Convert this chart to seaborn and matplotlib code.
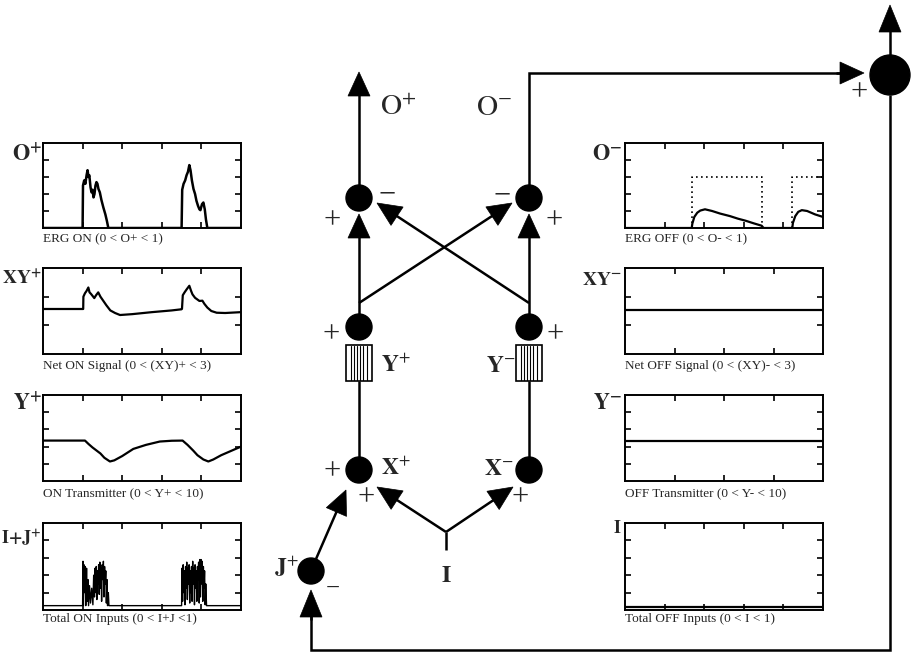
import numpy as np
import pandas as pd
import matplotlib
matplotlib.use("Agg")
import matplotlib.pyplot as plt
from matplotlib.patches import Circle, Polygon, Rectangle
import seaborn as sns

# ---------------- data (time in % of trace, values in panel units) ----------------
erg_on_t = [0, 20.0, 20.2, 20.8, 21.4, 22.0, 22.5, 23.0, 23.4, 24.0, 24.5, 25.0, 25.5, 26.0, 26.5,
            27.0, 27.5, 28.0, 28.7, 29.5, 30.5, 31.5, 32.3, 33.0, 70.0, 70.3, 71.0, 71.8, 72.5,
            73.2, 73.9, 74.5, 75.2, 76.0, 76.8, 77.5, 78.3, 79.0, 79.5, 80.3, 81.0, 81.7, 82.3, 83.0, 100]
erg_on_v = [0, 0, 0.50, 0.56, 0.52, 0.62, 0.68, 0.60, 0.62, 0.48, 0.42, 0.45, 0.36, 0.40, 0.50,
            0.54, 0.52, 0.46, 0.42, 0.33, 0.24, 0.16, 0.08, 0, 0, 0.45, 0.52, 0.56, 0.62,
            0.66, 0.74, 0.68, 0.56, 0.46, 0.40, 0.32, 0.26, 0.22, 0.21, 0.28, 0.30, 0.22, 0.10, 0, 0]

net_on_t = [0, 20.3, 20.4, 21.2, 22.0, 22.9, 23.5, 24.2, 25.0, 25.9, 26.8, 27.9, 29.0, 30.5, 32.0,
            34.0, 36.4, 38.9, 45, 55, 65, 70.0, 70.2, 70.6, 71.5, 72.5, 73.9, 74.8, 75.5, 76.8,
            78.0, 79.0, 80.5, 81.5, 83.0, 85.0, 87.7, 92, 100]
net_on_v = [1.57, 1.57, 2.00, 2.12, 2.20, 2.32, 2.15, 2.10, 2.03, 1.95, 2.05, 2.15, 2.00, 1.85, 1.70,
            1.52, 1.43, 1.36, 1.39, 1.46, 1.52, 1.56, 1.58, 2.05, 2.15, 2.25, 2.38, 2.20, 2.08, 1.96,
            1.90, 1.85, 1.86, 1.75, 1.62, 1.50, 1.44, 1.43, 1.46]

trans_on_t = [0, 21.2, 23, 25, 27, 29, 31, 33.8, 36, 40, 45.6, 52, 59, 65, 70.5, 73, 75.9, 78, 81,
              83.5, 86, 90, 95, 100]
trans_on_v = [4.7, 4.7, 4.3, 3.9, 3.55, 3.2, 2.7, 2.27, 2.4, 2.9, 3.73, 4.2, 4.59, 4.68, 4.7, 4.2,
              3.53, 3.0, 2.5, 2.27, 2.5, 3.0, 3.5, 4.0]

inp_on_t = [0, 20.0, 20.2, 20.4, 20.7, 21.0, 21.3, 21.6, 22.0, 22.3, 22.7, 23.0, 23.5, 24.0, 24.6,
            25.2, 25.6, 26.0, 26.3, 26.6, 26.9, 27.2, 27.5, 27.8, 28.1, 28.4, 28.7, 29.0, 29.3,
            29.6, 29.9, 30.2, 30.5, 30.8, 31.1, 31.4, 31.7, 32.0, 32.3, 32.6, 33.0, 33.3,
            70.0, 70.2, 70.5, 70.8, 71.1, 71.4, 71.7, 72.0, 72.3, 72.6, 72.9, 73.2, 73.5, 73.8,
            74.1, 74.4, 74.7, 75.0, 75.3, 75.6, 75.9, 76.2, 76.5, 76.8, 77.1, 77.4, 77.7, 78.0,
            78.3, 78.6, 78.9, 79.2, 79.5, 79.8, 80.1, 80.4, 80.7, 81.0, 81.3, 81.6, 81.9, 82.2,
            82.6, 100]
inp_on_v = [0.05, 0.05, 0.56, 0.05, 0.52, 0.20, 0.50, 0.05, 0.48, 0.10, 0.35, 0.05, 0.28, 0.08, 0.25,
            0.06, 0.40, 0.15, 0.48, 0.20, 0.50, 0.12, 0.45, 0.30, 0.52, 0.18, 0.55, 0.25, 0.48,
            0.10, 0.52, 0.35, 0.56, 0.15, 0.50, 0.30, 0.45, 0.08, 0.35, 0.05, 0.20, 0.05,
            0.05, 0.48, 0.10, 0.52, 0.20, 0.45, 0.06, 0.50, 0.25, 0.55, 0.12, 0.48, 0.30, 0.52,
            0.08, 0.45, 0.20, 0.50, 0.10, 0.56, 0.30, 0.48, 0.06, 0.52, 0.25, 0.45, 0.10, 0.50,
            0.35, 0.55, 0.08, 0.58, 0.15, 0.58, 0.30, 0.56, 0.10, 0.50, 0.25, 0.45, 0.06, 0.30,
            0.05, 0.05]

erg_off_t = [0, 33.7, 34.0, 35, 36.5, 38, 40.4, 44, 48, 53, 57, 61, 65, 69, 70, 84.5, 84.8, 86,
             87.5, 89.3, 92, 96, 100]
erg_off_v = [0, 0, 0.05, 0.13, 0.18, 0.205, 0.22, 0.20, 0.17, 0.14, 0.11, 0.085, 0.055, 0.027, 0,
             0, 0.06, 0.14, 0.19, 0.21, 0.20, 0.16, 0.13]

off_stim_t = [33.7, 33.7, 69.0, 69.0, 84.5, 84.5, 100]
off_stim_v = [0, 0.6, 0.6, 0, 0, 0.6, 0.6]
off_stim_seg = [0, 0, 0, 0, 1, 1, 1]

net_off_t = [0, 100]
net_off_v = [1.53, 1.53]
trans_off_t = [0, 100]
trans_off_v = [4.65, 4.65]
inp_off_t = [0, 100]
inp_off_v = [0.04, 0.04]

left_captions = ["ERG ON (0 < O+ < 1)", "Net ON Signal (0 < (XY)+ < 3)",
                 "ON Transmitter (0 < Y+ < 10)", "Total ON Inputs (0 < I+J <1)"]
right_captions = ["ERG OFF (0 < O- < 1)", "Net OFF Signal (0 < (XY)- < 3)",
                  "OFF Transmitter (0 < Y- < 10)", "Total OFF Inputs (0 < I < 1)"]
left_names = [r"$\mathbf{O}^{\mathbf{+}}$", r"$\mathbf{XY}^{\mathbf{+}}$",
              r"$\mathbf{Y}^{\mathbf{+}}$", r"$\mathbf{I{+}J}^{\mathbf{+}}$"]
right_names = [r"$\mathbf{O}^{\mathbf{-}}$", r"$\mathbf{XY}^{\mathbf{-}}$",
               r"$\mathbf{Y}^{\mathbf{-}}$", r"$\mathbf{I}$"]
ymax = [1, 3, 10, 1]

# ---------------- style ----------------
sns.set_style("white")
plt.rcParams["font.family"] = ["Liberation Serif", "DejaVu Serif"]
plt.rcParams["mathtext.fontset"] = "stix"

W, H = 913, 656
fig = plt.figure(figsize=(W / 100, H / 100), dpi=100)
fig.patch.set_facecolor("white")
ax0 = fig.add_axes([0, 0, 1, 1])
ax0.set_xlim(0, W)
ax0.set_ylim(H, 0)
ax0.axis("off")

LW = 1.8


def add_panel(x0, y0, x1, y1):
    ax = fig.add_axes([x0 / W, 1 - y1 / H, (x1 - x0) / W, (y1 - y0) / H])
    ax.set_facecolor("white")
    for s in ax.spines.values():
        s.set_visible(True)
        s.set_color("black")
        s.set_linewidth(1.4)
    return ax


def style_ticks(ax, xt, yt, top):
    ax.set_xlim(0, 100)
    ax.set_ylim(0, top)
    ax.set_xticks(xt)
    ax.set_yticks(yt)
    ax.set_xticklabels([])
    ax.set_yticklabels([])
    ax.tick_params(direction="in", top=True, right=True, bottom=True, left=True,
                   length=4, width=1.2, color="black")
    ax.set_xlabel("")
    ax.set_ylabel("")


panel_y = [(143, 228), (268, 354), (395, 481), (523, 610)]
left_x = (43, 241)
right_x = (625, 823)

left_data = [(erg_on_t, erg_on_v), (net_on_t, net_on_v), (trans_on_t, trans_on_v), (inp_on_t, inp_on_v)]
right_data = [(erg_off_t, erg_off_v), (net_off_t, net_off_v), (trans_off_t, trans_off_v), (inp_off_t, inp_off_v)]
left_lw = [1.8, 1.6, 1.6, 1.0]

cap_base = [242, 369, 497, 622]
name_base = [160, 285, 409, 543]
left_fs = [16, 14, 16, 13]

for i in range(4):
    y0, y1 = panel_y[i]
    # left panel
    ax = add_panel(left_x[0], y0, left_x[1], y1)
    t, v = left_data[i]
    sns.lineplot(x=t, y=v, ax=ax, color="black", lw=left_lw[i], sort=False, estimator=None)
    yt = [ymax[i] * k / 5 for k in range(1, 5)] if ymax[i] != 3 else [1, 2]
    style_ticks(ax, [20, 40, 60, 80], yt, ymax[i])
    # right panel
    axr = add_panel(right_x[0], y0, right_x[1], y1)
    t, v = right_data[i]
    sns.lineplot(x=t, y=v, ax=axr, color="black", lw=1.6, sort=False, estimator=None)
    if i == 0:
        df = pd.DataFrame({"t": off_stim_t, "v": off_stim_v, "seg": off_stim_seg})
        sns.lineplot(data=df, x="t", y="v", units="seg", estimator=None, sort=False,
                     ax=axr, color="black", lw=1.2, linestyle=(0, (1, 2)))
    xt = [20, 40, 60, 80] if i in (0, 3) else [25, 50, 75]
    style_ticks(axr, xt, yt, ymax[i])

    ax0.text(left_x[0], cap_base[i], left_captions[i], fontsize=9.5, ha="left", va="baseline")
    ax0.text(right_x[0], cap_base[i], right_captions[i], fontsize=9.5, ha="left", va="baseline")
    ax0.text(left_x[0] - 1, name_base[i], left_names[i], fontsize=left_fs[i], ha="right", va="baseline")
    ax0.text(right_x[0] - 3, name_base[i] - (10 if i == 3 else 0), right_names[i],
             fontsize=[16, 14, 16, 13][i], ha="right", va="baseline")


# ---------------- diagram helpers ----------------
def line(pts):
    xs = [p[0] for p in pts]
    ys = [p[1] for p in pts]
    ax0.plot(xs, ys, color="black", lw=LW, solid_capstyle="butt", solid_joinstyle="miter")


def arrow(x0, y0, x1, y1, hl=24, hw=11):
    d = np.array([x1 - x0, y1 - y0], dtype=float)
    d /= np.hypot(*d)
    tip = np.array([x1, y1], dtype=float)
    base = tip - d * hl
    n = np.array([-d[1], d[0]])
    line([(x0, y0), tuple(base + d * 2)])
    ax0.add_patch(Polygon([tip, base + n * hw, base - n * hw], closed=True,
                          facecolor="black", edgecolor="black", lw=0.5))


def node(x, y, r=13):
    ax0.add_patch(Circle((x, y), r, facecolor="black", edgecolor="black"))


def sign(x, y, s, fs=22):
    ax0.text(x, y, s, fontsize=fs, ha="center", va="center")


def gate(xc, y0, y1, w=26):
    ax0.add_patch(Rectangle((xc - w / 2, y0), w, y1 - y0, facecolor="white",
                            edgecolor="black", lw=1.2))
    for dx in (-8.5, -5.5, -2.5, 1.0, 4.0, 7.5):
        ax0.plot([xc + dx, xc + dx], [y0 + 1, y1 - 1], color="black", lw=0.8)


LX, RX = 359, 529

# output arrows
arrow(LX, 185, LX, 72)
line([(RX, 185), (RX, 73), (840, 73)])
arrow(836, 73, 864, 73)
node(890, 75, 20)
arrow(890, 55, 890, 5, hl=27, hw=11)
line([(890, 95), (890, 650), (311, 650), (311, 600)])
arrow(311, 620, 311, 590, hl=27, hw=11)

# upper nodes
node(LX, 198)
node(RX, 198)
arrow(LX, 314, LX, 214)
arrow(RX, 314, RX, 214)
arrow(LX, 303, 512, 203)
arrow(RX, 303, 377, 203)

# Y nodes and gates
node(LX, 327)
node(RX, 327)
gate(LX, 345, 381)
gate(RX, 345, 381)
line([(LX, 381), (LX, 458)])
line([(RX, 381), (RX, 458)])
node(LX, 470)
node(RX, 470)

# input I
line([(446, 550), (446, 532)])
arrow(446, 532, 377, 487)
arrow(446, 532, 513, 487)

# J node
node(311, 571)
arrow(316, 559, 346, 490)

# signs
sign(332, 221, "+")
sign(554, 221, "+")
sign(387, 195, "\u2212")
sign(502, 196, "\u2212")
sign(331, 335, "+")
sign(555, 335, "+")
sign(332, 472, "+")
sign(366, 498, "+")
sign(520, 498, "+")
sign(333, 589, "\u2212", fs=18)
sign(859, 93, "+")

# node labels
ax0.text(380, 115, r"$\mathrm{O}^{+}$", fontsize=21, ha="left", va="baseline")
ax0.text(476, 115, r"$\mathrm{O}^{-}$", fontsize=21, ha="left", va="baseline")
ax0.text(381, 372, r"$\mathbf{Y}^{+}$", fontsize=17, ha="left", va="baseline")
ax0.text(486, 372, r"$\mathbf{Y}^{-}$", fontsize=17, ha="left", va="baseline")
ax0.text(381, 475, r"$\mathbf{X}^{+}$", fontsize=17, ha="left", va="baseline")
ax0.text(484, 475, r"$\mathbf{X}^{-}$", fontsize=17, ha="left", va="baseline")
ax0.text(446, 582, r"$\mathbf{I}$", fontsize=17, ha="center", va="baseline")
ax0.text(299, 575, r"$\mathbf{J}^{+}$", fontsize=17, ha="right", va="baseline")

fig.savefig("out.png", dpi=100, facecolor="white")
